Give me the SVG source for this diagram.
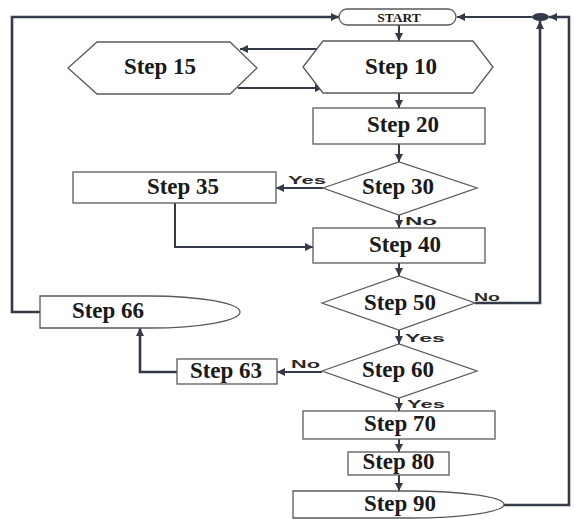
<svg xmlns="http://www.w3.org/2000/svg" width="577" height="519" viewBox="0 0 577 519">
<defs>
<marker id="ah" viewBox="0 0 10 10" refX="10" refY="5" markerWidth="9" markerHeight="8" markerUnits="userSpaceOnUse" orient="auto">
<path d="M0,0 L10,5 L0,10 Z" fill="#353a48"/>
</marker>
<style>
.node{fill:#ffffff;stroke:#5a5a5a;stroke-width:1.3}
.lbl{font-family:"Liberation Serif","Times New Roman",serif;font-weight:bold;font-size:23px;fill:#1a1a1a;text-anchor:middle}
.yn{font-family:"Liberation Sans",Arial,sans-serif;font-weight:bold;font-size:11px;fill:#2a2a2a}
.c{fill:none;stroke:#353a48;stroke-width:2}
.ca{fill:none;stroke:#353a48;stroke-width:2;marker-end:url(#ah)}
.outer{fill:none;stroke:#353a48;stroke-width:2.6}
</style>
</defs>
<rect width="577" height="519" fill="#ffffff"/>
<g id="connectors">
<path class="ca" d="M399,25 V41"/>
<path class="ca" d="M322,49 H240"/>
<path class="ca" d="M238,88 H323"/>
<path class="ca" d="M399,93 V108"/>
<path class="ca" d="M399,144 V162"/>
<path class="ca" d="M323,188 H276"/>
<path class="ca" d="M399,215 V228"/>
<path class="ca" d="M175,203 V247 H313"/>
<path class="ca" d="M399,263 V276"/>
<path class="outer" d="M475,303 H540 V21" marker-end="url(#ah)"/>
<path class="ca" d="M399,330 V344"/>
<path class="ca" d="M322,372 H277"/>
<path class="outer" d="M177,372 H140 V328" marker-end="url(#ah)"/>
<path class="ca" d="M399,398 V411"/>
<path class="ca" d="M399,439 V452"/>
<path class="ca" d="M399,475 V491"/>
<path class="outer" d="M40,312 H12 V17 H339" marker-end="url(#ah)"/>
<path class="outer" d="M504,505 H569 V17 H549" marker-end="url(#ah)"/>
<path class="ca" d="M532,17 H457"/>
<ellipse cx="540.5" cy="17" rx="8.5" ry="4" fill="#353a48"/>
<text class="yn" x="288" y="184" textLength="38" lengthAdjust="spacingAndGlyphs">Yes</text>
<text class="yn" x="405" y="225" textLength="32" lengthAdjust="spacingAndGlyphs">No</text>
<text class="yn" x="474" y="301" textLength="26" lengthAdjust="spacingAndGlyphs">No</text>
<text class="yn" x="405" y="342" textLength="40" lengthAdjust="spacingAndGlyphs">Yes</text>
<text class="yn" x="291" y="368" textLength="29" lengthAdjust="spacingAndGlyphs">No</text>
<text class="yn" x="407" y="408" textLength="38" lengthAdjust="spacingAndGlyphs">Yes</text>
</g>
<g id="start">
<rect class="node" x="339" y="9" width="117" height="16" rx="8"/>
<text x="399" y="22" font-family="Liberation Serif,serif" font-weight="bold" font-size="13.5" fill="#1a1a1a" text-anchor="middle">START</text>
</g>
<g id="step10">
<polygon class="node" points="303,67 323,41 473,41 493,67 473,93 323,93"/>
<text class="lbl" x="401" y="74">Step 10</text>
</g>
<g id="step15">
<polygon class="node" points="68,68 97,42 230,42 257,68 230,94 97,94"/>
<text class="lbl" x="160" y="74">Step 15</text>
</g>
<g id="step20">
<rect class="node" x="313" y="108" width="172" height="36"/>
<text class="lbl" x="403" y="132">Step 20</text>
</g>
<g id="step30">
<polygon class="node" points="323,188 399,162 477,188 399,215"/>
<text class="lbl" x="398" y="194">Step 30</text>
</g>
<g id="step35">
<rect class="node" x="73" y="172" width="203" height="31"/>
<text class="lbl" x="183" y="194">Step 35</text>
</g>
<g id="step40">
<rect class="node" x="313" y="228" width="172" height="35"/>
<text class="lbl" x="405" y="252">Step 40</text>
</g>
<g id="step50">
<polygon class="node" points="322,303 399,276 475,303 399,330"/>
<text class="lbl" x="400" y="310">Step 50</text>
</g>
<g id="step60">
<polygon class="node" points="322,371 399,344 477,371 399,398"/>
<text class="lbl" x="398" y="377">Step 60</text>
</g>
<g id="step63">
<rect class="node" x="177" y="359" width="100" height="25"/>
<text class="lbl" x="226" y="378">Step 63</text>
</g>
<g id="step66">
<path class="node" d="M40,296 H150 A90,16 0 0 1 150,328 H40 Z"/>
<text class="lbl" x="108" y="318">Step 66</text>
</g>
<g id="step70">
<rect class="node" x="303" y="411" width="192" height="28"/>
<text class="lbl" x="400" y="431">Step 70</text>
</g>
<g id="step80">
<rect class="node" x="348" y="452" width="101" height="23"/>
<text class="lbl" x="398.5" y="469">Step 80</text>
</g>
<g id="step90">
<path class="node" d="M293,491 H410 A94,13.5 0 0 1 410,518 H293 Z"/>
<text class="lbl" x="400" y="511">Step 90</text>
</g>
</svg>
